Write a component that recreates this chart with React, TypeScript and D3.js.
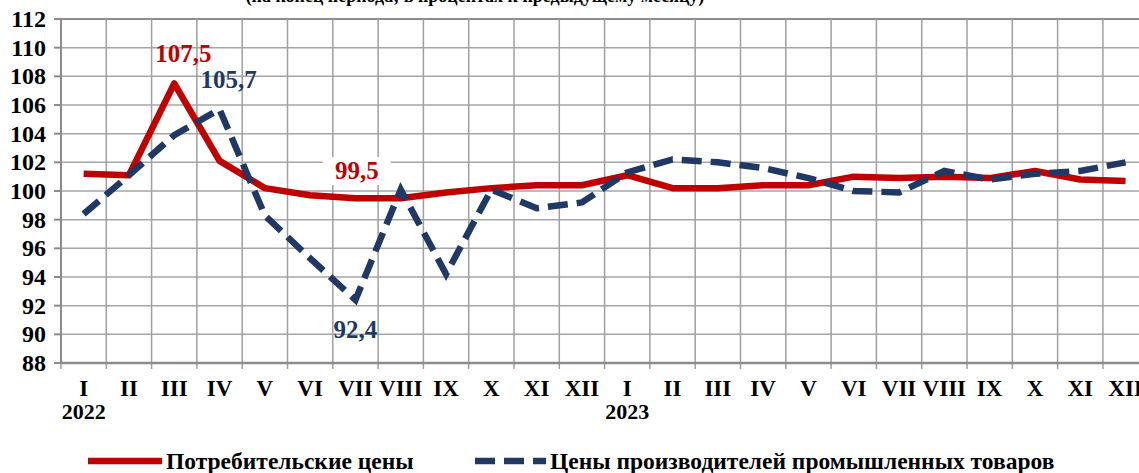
import React from 'react';
import * as d3 from 'd3';

const months = ['I', 'II', 'III', 'IV', 'V', 'VI', 'VII', 'VIII', 'IX', 'X', 'XI', 'XII'];
const years = ['2022', '2023'];
const categories = years.flatMap(y => months.map(m => `${m}-${y}`));

// consumer prices, % to previous month
const consumer = [101.2, 101.1, 107.5, 102.1, 100.2, 99.7, 99.5, 99.5, 99.9, 100.2, 100.4, 100.4,
    101.1, 100.2, 100.2, 100.4, 100.4, 101.0, 100.9, 101.0, 100.9, 101.4, 100.8, 100.7];
// industrial producer prices
const producer = [98.4, 101.1, 103.9, 105.7, 98.3, 95.3, 92.4, 100.1, 94.2, 100.1, 98.8, 99.2,
    101.3, 102.2, 102.0, 101.6, 100.9, 100.0, 99.9, 101.4, 100.8, 101.2, 101.4, 102.0];
const yTicks = [88, 90, 92, 94, 96, 98, 100, 102, 104, 106, 108, 110, 112];

const seriesNames = ['Потребительские цены', 'Цены производителей промышленных товаров'];
const title = '(на конец периода; в процентах к предыдущему месяцу)';

const font = '"Liberation Serif", "Times New Roman", serif';

const App: React.FC = () => {
    const width = 1139;
    const height = 473;
    const margin = { left: 61, top: 19, bottom: 363 };
    const plotRight = margin.left + 24 * 45.3;

    const x = d3.scaleBand().domain(categories).range([margin.left, plotRight]);
    const y = d3.scaleLinear().domain([88, 112]).range([margin.bottom, margin.top]);
    const cx = (i: number) => (x(categories[i]) || 0) + x.bandwidth() / 2;

    const line = d3.line<number>()
        .x((_, i) => cx(i))
        .y(d => y(d));

    const bounds = categories.map(c => x(c) || 0).concat([plotRight]);

    const label = (i: number, v: number, color: string, dy: number, dx = 0, bg = false) => {
        const txt = v.toFixed(1).replace('.', ',');
        const px = cx(i) + dx;
        const py = y(v) + dy;
        return (
            <g key={`${color}-${i}`}>
                {bg && <rect x={px - 34} y={py - 22} width={68} height={28} fill="#fff" />}
                <text x={px} y={py} textAnchor="middle" fill={color} fontSize={25} fontWeight="bold" fontFamily={font}>{txt}</text>
            </g>
        );
    };

    return (
        <svg width={width} height={height} style={{ position: 'absolute', left: 0, top: 0, background: '#fff' }}>
            <text x={475} y={2} textAnchor="middle" fontSize={18} fontWeight="bold" fontFamily={font}>{title}</text>

            {/* grid */}
            {yTicks.map(t => (
                <line key={`h${t}`} x1={margin.left} x2={plotRight} y1={y(t)} y2={y(t)}
                    stroke={t === 112 ? '#8c8c8c' : '#a6a6a6'} strokeWidth={t === 112 ? 2 : 1.5} />
            ))}
            {bounds.map((b, i) => (
                <line key={`v${i}`} x1={b} x2={b} y1={margin.top} y2={margin.bottom + 6}
                    stroke="#a0a0a0" strokeWidth={1.5} />
            ))}
            {/* axes */}
            <line x1={margin.left} x2={margin.left} y1={margin.top} y2={margin.bottom} stroke="#8c8c8c" strokeWidth={2} />
            <line x1={margin.left} x2={plotRight} y1={margin.bottom} y2={margin.bottom} stroke="#8c8c8c" strokeWidth={2.5} />
            {yTicks.map(t => (
                <g key={`yt${t}`}>
                    <line x1={margin.left - 7} x2={margin.left} y1={y(t)} y2={y(t)} stroke="#8c8c8c" strokeWidth={2} />
                    <text x={46} y={y(t) + 8} textAnchor="end" fontSize={24} fontWeight="bold" fontFamily={font}>{t}</text>
                </g>
            ))}
            {categories.map((c, i) => (
                <text key={`xl${c}`} x={cx(i)} y={396} textAnchor="middle" fontSize={23} fontWeight="bold" fontFamily={font}>
                    {months[i % 12]}
                </text>
            ))}
            {years.map((yr, k) => (
                <text key={yr} x={cx(k * 12)} y={419} textAnchor="middle" fontSize={22} fontWeight="bold" fontFamily={font}>{yr}</text>
            ))}

            {/* series */}
            <path d={line(consumer) || ''} fill="none" stroke="#C00000" strokeWidth={6.5} strokeLinejoin="round" />
            <path d={line(producer) || ''} fill="none" stroke="#1F3864" strokeWidth={6.5} strokeDasharray="20 9" />

            {label(2, consumer[2], '#C00000', -22, 9)}
            {label(3, producer[3], '#1F3864', -21, 9)}
            {label(7, consumer[7], '#C00000', -19, -44, true)}
            {label(6, producer[6], '#1F3864', 38)}

            {/* legend */}
            <line x1={88} x2={162} y1={461} y2={461} stroke="#C00000" strokeWidth={6.5} />
            <text x={166} y={469} fontSize={23.5} fontWeight="bold" fontFamily={font}>{seriesNames[0]}</text>
            <line x1={475} x2={546} y1={461} y2={461} stroke="#1F3864" strokeWidth={6.5} strokeDasharray="20 9" />
            <text x={550} y={469} fontSize={23.5} fontWeight="bold" fontFamily={font}>{seriesNames[1]}</text>
        </svg>
    );
};

export default App;
